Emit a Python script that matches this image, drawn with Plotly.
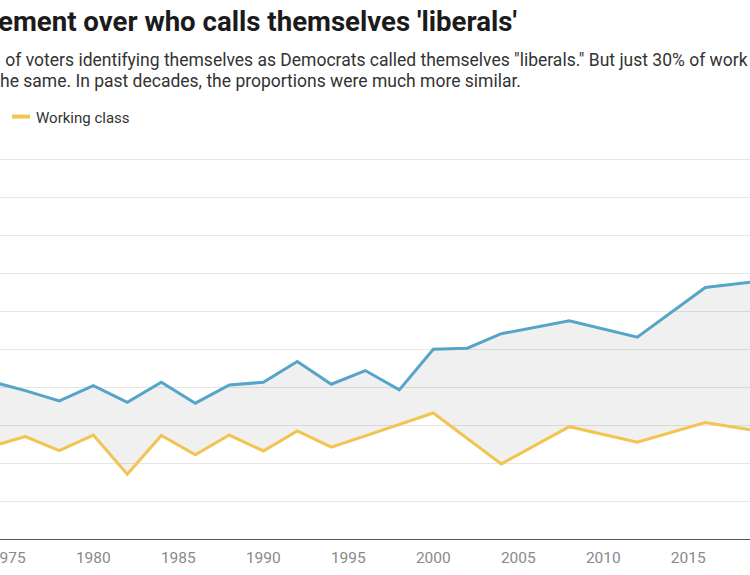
import plotly.graph_objects as go

years = [1972, 1974, 1976, 1978, 1980, 1982, 1984, 1986, 1988, 1990, 1992, 1994,
         1996, 1998, 2000, 2002, 2004, 2008, 2012, 2016, 2020]
college = [40.0, 41.5, 39.1, 36.4, 40.4, 36.0, 41.3, 35.8, 40.6, 41.3, 46.8, 40.8,
           44.4, 39.3, 50.0, 50.3, 54.1, 57.5, 53.2, 66.3, 68.4]
working = [24.0, 24.4, 27.0, 23.3, 27.4, 17.1, 27.3, 22.2, 27.4, 23.2, 28.5, 24.2,
           27.2, 30.1, 33.2, 26.5, 19.8, 29.6, 25.5, 30.7, 27.8]
xticks = [1975, 1980, 1985, 1990, 1995, 2000, 2005, 2010, 2015]

title_text = "ement over who calls themselves 'liberals'"
sub1 = ' of voters identifying themselves as Democrats called themselves "liberals." But just 30% of work'
sub2 = "he same. In past decades, the proportions were much more similar."
legend_label = "Working class"

BLUE = "#56a4c8"
YELLOW = "#f2c450"
FONT = "Roboto"

W, H = 750, 575
top_m, bot_m = 152.4, 36
plot_h = H - top_m - bot_m


def py(ypx):
    return (H - bot_m - ypx) / plot_h


fig = go.Figure()
fig.add_trace(go.Scatter(x=years, y=working, mode="lines",
                         line=dict(color=YELLOW, width=3), name="Working class",
                         hoverinfo="x+y"))
fig.add_trace(go.Scatter(x=years, y=college, mode="lines", fill="tonexty",
                         fillcolor="rgba(0,0,0,0.06)",
                         line=dict(color=BLUE, width=3), name="College educated",
                         hoverinfo="x+y"))

fig.update_layout(
    width=W, height=H,
    margin=dict(l=0, r=0, t=top_m, b=bot_m, autoexpand=False),
    paper_bgcolor="white", plot_bgcolor="white",
    showlegend=False,
    font=dict(family=FONT, color="#333333"),
    xaxis=dict(range=[1974.51, 2018.63], tickvals=xticks, showgrid=False,
               showline=True, linecolor="#555555", linewidth=1.2,
               ticks="", ticklabelstandoff=4, ticklabeloverflow="allow",
               automargin=False,
               tickfont=dict(family=FONT, size=15.5, color="#8a8a8a"),
               zeroline=False, fixedrange=True),
    yaxis=dict(range=[0, 102], tickvals=list(range(0, 101, 10)),
               showticklabels=False, showgrid=True, gridcolor="#e6e6e6",
               gridwidth=1, zeroline=False, fixedrange=True, automargin=False),
    annotations=[
        dict(text="<b>" + title_text + "</b>", xref="paper", yref="paper",
             x=-0.006, y=py(22), xanchor="left", yanchor="middle", showarrow=False,
             font=dict(family=FONT, size=27.6, color="#1b1b1b")),
        dict(text=sub1, xref="paper", yref="paper", x=-0.002, y=py(60),
             xanchor="left", yanchor="middle", showarrow=False,
             font=dict(family=FONT, size=17.5, color="#333333")),
        dict(text=sub2, xref="paper", yref="paper", x=-0.003, y=py(81),
             xanchor="left", yanchor="middle", showarrow=False,
             font=dict(family=FONT, size=17.5, color="#333333")),
        dict(text=legend_label, xref="paper", yref="paper", x=34 / W, y=py(118),
             xanchor="left", yanchor="middle", showarrow=False,
             font=dict(family=FONT, size=15, color="#333333")),
    ],
    shapes=[
        dict(type="line", xref="paper", yref="paper", x0=12 / W, x1=30 / W,
             y0=py(117), y1=py(117), line=dict(color=YELLOW, width=4)),
    ],
)

fig.write_html("out.html", config={"displayModeBar": False},
               post_script="document.body.style.margin='0';document.body.style.overflow='hidden';")
